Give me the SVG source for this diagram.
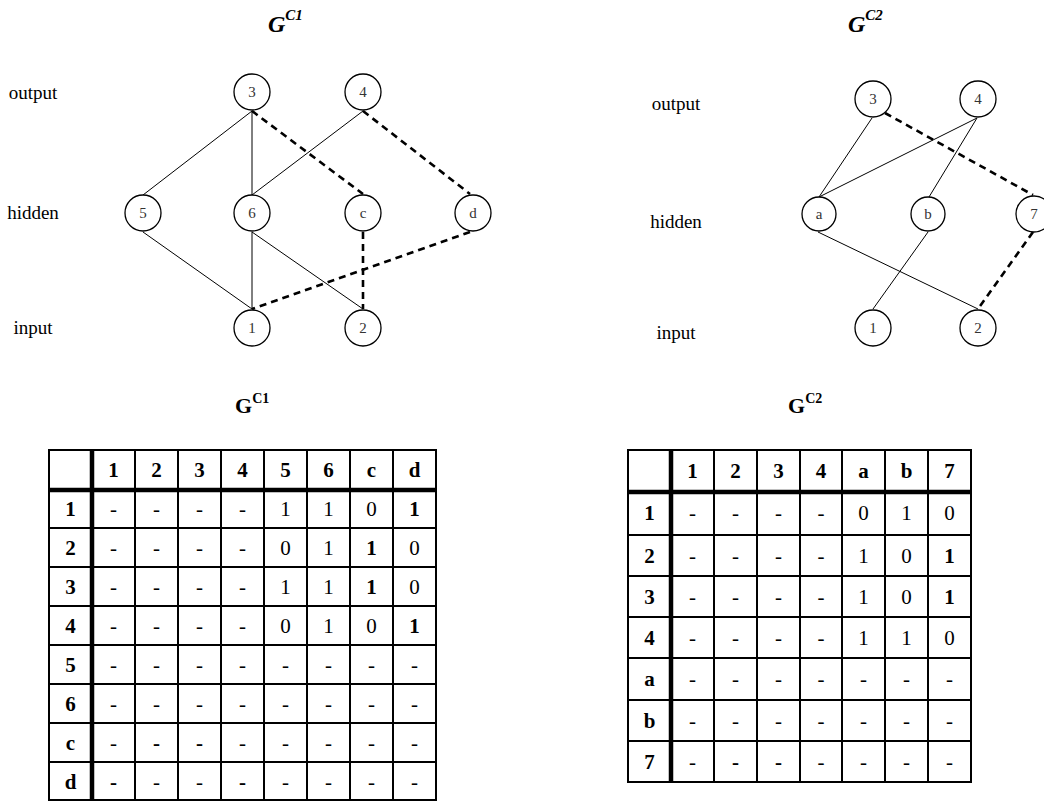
<svg xmlns="http://www.w3.org/2000/svg" width="1044" height="801" viewBox="0 0 1044 801">
  <style>
    .bg { fill: #ffffff; }
    .node circle { fill: #ffffff; stroke: #000000; stroke-width: 1.3; }
    .node text { font-family: "Liberation Serif", serif; font-size: 15px; fill: #333333; text-anchor: middle; }
    .layer { font-family: "Liberation Serif", serif; font-size: 19px; fill: #000000; text-anchor: middle; }
    .edge { stroke: #000000; stroke-width: 1; fill: none; }
    .dash { stroke: #000000; stroke-width: 2.6; stroke-dasharray: 7 5; fill: none; }
    .gtitle { font-family: "Liberation Serif", serif; font-weight: bold; font-style: italic; fill: #000000; }
    .ttitle { font-family: "Liberation Serif", serif; font-weight: bold; fill: #000000; }
    .grid { stroke: #000000; stroke-width: 2; fill: none; }
    .thick { stroke: #000000; stroke-width: 4.5; fill: none; }
    .th { font-family: "Liberation Serif", serif; font-weight: bold; font-size: 21px; text-anchor: middle; fill: #000000; }
    .td { font-family: "Liberation Serif", serif; font-size: 21px; text-anchor: middle; fill: #000000; }
    .tb { font-family: "Liberation Serif", serif; font-weight: bold; font-size: 21px; text-anchor: middle; fill: #000000; }
  </style>
  <rect class="bg" x="0" y="0" width="1044" height="801"/>

  <!-- graph titles -->
  <text class="gtitle" x="268" y="32" font-size="24">G<tspan font-size="15" dy="-12">C1</tspan></text>
  <text class="gtitle" x="848" y="32" font-size="24">G<tspan font-size="15" dy="-12">C2</tspan></text>

  <!-- layer labels, first network -->
  <text class="layer" x="33" y="99">output</text>
  <text class="layer" x="33" y="219">hidden</text>
  <text class="layer" x="33" y="334">input</text>
  <!-- layer labels, second network -->
  <text class="layer" x="676" y="110">output</text>
  <text class="layer" x="676" y="228">hidden</text>
  <text class="layer" x="676" y="339">input</text>

  <!-- connectors -->
  <g id="connectors">
    <!-- first network -->
    <line class="edge" x1="252" y1="111" x2="143" y2="195"/>
    <line class="edge" x1="252" y1="111" x2="252" y2="195"/>
    <line class="edge" x1="363" y1="111" x2="252" y2="195"/>
    <line class="edge" x1="143" y1="232" x2="252" y2="309"/>
    <line class="edge" x1="252" y1="232" x2="252" y2="309"/>
    <line class="edge" x1="252" y1="232" x2="363" y2="309"/>
    <line class="dash" x1="252" y1="111" x2="363" y2="194"/>
    <line class="dash" x1="363" y1="111" x2="470" y2="194"/>
    <line class="dash" x1="363" y1="232" x2="363" y2="309"/>
    <line class="dash" x1="470" y1="232" x2="252" y2="309"/>
    <!-- second network -->
    <line class="edge" x1="872" y1="118" x2="819" y2="197"/>
    <line class="edge" x1="977" y1="118" x2="819" y2="197"/>
    <line class="edge" x1="977" y1="118" x2="929" y2="197"/>
    <line class="edge" x1="818" y1="232" x2="978" y2="309"/>
    <line class="edge" x1="928" y1="232" x2="873" y2="309"/>
    <line class="dash" x1="885" y1="113" x2="1033" y2="195"/>
    <line class="dash" x1="1033" y1="232" x2="978" y2="309"/>
  </g>

  <!-- first network nodes -->
  <g id="n1-3" class="node"><circle cx="252" cy="92" r="18"/><text x="252" y="97">3</text></g>
  <g id="n1-4" class="node"><circle cx="363" cy="92" r="18"/><text x="363" y="97">4</text></g>
  <g id="n1-5" class="node"><circle cx="143" cy="213" r="18"/><text x="143" y="218">5</text></g>
  <g id="n1-6" class="node"><circle cx="252" cy="213" r="18"/><text x="252" y="218">6</text></g>
  <g id="n1-c" class="node"><circle cx="363" cy="213" r="18"/><text x="363" y="218">c</text></g>
  <g id="n1-d" class="node"><circle cx="473" cy="213" r="18"/><text x="473" y="218">d</text></g>
  <g id="n1-1" class="node"><circle cx="252" cy="328" r="18"/><text x="252" y="333">1</text></g>
  <g id="n1-2" class="node"><circle cx="363" cy="328" r="18"/><text x="363" y="333">2</text></g>

  <!-- second network nodes -->
  <g id="n2-3" class="node"><circle cx="873" cy="99" r="18"/><text x="873" y="104">3</text></g>
  <g id="n2-4" class="node"><circle cx="978" cy="99" r="18"/><text x="978" y="104">4</text></g>
  <g id="n2-a" class="node"><circle cx="819" cy="214" r="17"/><text x="819" y="219">a</text></g>
  <g id="n2-b" class="node"><circle cx="928" cy="214" r="17"/><text x="928" y="219">b</text></g>
  <g id="n2-7" class="node"><circle cx="1034" cy="214" r="18"/><text x="1034" y="219">7</text></g>
  <g id="n2-1" class="node"><circle cx="873" cy="328" r="18"/><text x="873" y="333">1</text></g>
  <g id="n2-2" class="node"><circle cx="978" cy="328" r="18"/><text x="978" y="333">2</text></g>

  <!-- table titles -->
  <text class="ttitle" x="235" y="413" font-size="22">G<tspan font-size="14" dy="-10">C1</tspan></text>
  <text class="ttitle" x="788" y="413" font-size="22">G<tspan font-size="14" dy="-10">C2</tspan></text>

  <!-- first matrix -->
  <g id="table1">
    <rect class="grid" x="49" y="450" width="387" height="350"/>
    <!-- column rules -->
    <line class="grid" x1="135" y1="450" x2="135" y2="800"/>
    <line class="grid" x1="178" y1="450" x2="178" y2="800"/>
    <line class="grid" x1="221" y1="450" x2="221" y2="800"/>
    <line class="grid" x1="264" y1="450" x2="264" y2="800"/>
    <line class="grid" x1="307" y1="450" x2="307" y2="800"/>
    <line class="grid" x1="350" y1="450" x2="350" y2="800"/>
    <line class="grid" x1="393" y1="450" x2="393" y2="800"/>
    <!-- row rules -->
    <line class="grid" x1="49" y1="528" x2="436" y2="528"/>
    <line class="grid" x1="49" y1="567" x2="436" y2="567"/>
    <line class="grid" x1="49" y1="606" x2="436" y2="606"/>
    <line class="grid" x1="49" y1="645" x2="436" y2="645"/>
    <line class="grid" x1="49" y1="684" x2="436" y2="684"/>
    <line class="grid" x1="49" y1="723" x2="436" y2="723"/>
    <line class="grid" x1="49" y1="762" x2="436" y2="762"/>
    <!-- heavy header rules -->
    <line class="thick" x1="92" y1="450" x2="92" y2="800"/>
    <line class="thick" x1="49" y1="490" x2="436" y2="490"/>
    <!-- header -->
    <g class="th">
      <text x="113.5" y="477">1</text><text x="156.5" y="477">2</text><text x="199.5" y="477">3</text><text x="242.5" y="477">4</text>
      <text x="285.5" y="477">5</text><text x="328.5" y="477">6</text><text x="371.5" y="477">c</text><text x="414.5" y="477">d</text>
      <text x="70.5" y="516">1</text><text x="70.5" y="555">2</text><text x="70.5" y="594">3</text><text x="70.5" y="633">4</text>
      <text x="70.5" y="672">5</text><text x="70.5" y="711">6</text><text x="70.5" y="750">c</text><text x="70.5" y="789">d</text>
    </g>
    <!-- row 1 -->
    <g class="td">
      <text x="113.5" y="516">-</text><text x="156.5" y="516">-</text><text x="199.5" y="516">-</text><text x="242.5" y="516">-</text>
      <text x="285.5" y="516">1</text><text x="328.5" y="516">1</text><text x="371.5" y="516">0</text>
    </g>
    <text class="tb" x="414.5" y="516">1</text>
    <!-- row 2 -->
    <g class="td">
      <text x="113.5" y="555">-</text><text x="156.5" y="555">-</text><text x="199.5" y="555">-</text><text x="242.5" y="555">-</text>
      <text x="285.5" y="555">0</text><text x="328.5" y="555">1</text><text x="414.5" y="555">0</text>
    </g>
    <text class="tb" x="371.5" y="555">1</text>
    <!-- row 3 -->
    <g class="td">
      <text x="113.5" y="594">-</text><text x="156.5" y="594">-</text><text x="199.5" y="594">-</text><text x="242.5" y="594">-</text>
      <text x="285.5" y="594">1</text><text x="328.5" y="594">1</text><text x="414.5" y="594">0</text>
    </g>
    <text class="tb" x="371.5" y="594">1</text>
    <!-- row 4 -->
    <g class="td">
      <text x="113.5" y="633">-</text><text x="156.5" y="633">-</text><text x="199.5" y="633">-</text><text x="242.5" y="633">-</text>
      <text x="285.5" y="633">0</text><text x="328.5" y="633">1</text><text x="371.5" y="633">0</text>
    </g>
    <text class="tb" x="414.5" y="633">1</text>
    <!-- rows 5, 6 -->
    <g class="td">
      <text x="113.5" y="672">-</text><text x="156.5" y="672">-</text><text x="199.5" y="672">-</text><text x="242.5" y="672">-</text>
      <text x="285.5" y="672">-</text><text x="328.5" y="672">-</text><text x="371.5" y="672">-</text><text x="414.5" y="672">-</text>
      <text x="113.5" y="711">-</text><text x="156.5" y="711">-</text><text x="199.5" y="711">-</text><text x="242.5" y="711">-</text>
      <text x="285.5" y="711">-</text><text x="328.5" y="711">-</text><text x="371.5" y="711">-</text><text x="414.5" y="711">-</text>
    </g>
    <!-- row c -->
    <g class="td">
      <text x="113.5" y="750">-</text><text x="242.5" y="750">-</text>
      <text x="285.5" y="750">-</text><text x="328.5" y="750">-</text><text x="371.5" y="750">-</text><text x="414.5" y="750">-</text>
    </g>
    <text class="tb" x="156.5" y="750">-</text><text class="tb" x="199.5" y="750">-</text>
    <!-- row d -->
    <g class="td">
      <text x="156.5" y="789">-</text><text x="199.5" y="789">-</text>
      <text x="285.5" y="789">-</text><text x="328.5" y="789">-</text><text x="371.5" y="789">-</text><text x="414.5" y="789">-</text>
    </g>
    <text class="tb" x="113.5" y="789">-</text><text class="tb" x="242.5" y="789">-</text>
  </g>

  <!-- second matrix -->
  <g id="table2">
    <rect class="grid" x="628" y="450" width="343" height="332"/>
    <line class="grid" x1="714" y1="450" x2="714" y2="782"/>
    <line class="grid" x1="757" y1="450" x2="757" y2="782"/>
    <line class="grid" x1="800" y1="450" x2="800" y2="782"/>
    <line class="grid" x1="842" y1="450" x2="842" y2="782"/>
    <line class="grid" x1="885" y1="450" x2="885" y2="782"/>
    <line class="grid" x1="928" y1="450" x2="928" y2="782"/>
    <line class="grid" x1="628" y1="535" x2="971" y2="535"/>
    <line class="grid" x1="628" y1="576" x2="971" y2="576"/>
    <line class="grid" x1="628" y1="617" x2="971" y2="617"/>
    <line class="grid" x1="628" y1="658" x2="971" y2="658"/>
    <line class="grid" x1="628" y1="700" x2="971" y2="700"/>
    <line class="grid" x1="628" y1="741" x2="971" y2="741"/>
    <line class="thick" x1="671" y1="450" x2="671" y2="782"/>
    <line class="thick" x1="628" y1="492" x2="971" y2="492"/>
    <g class="th">
      <text x="692.5" y="478">1</text><text x="735.5" y="478">2</text><text x="778.5" y="478">3</text><text x="821" y="478">4</text>
      <text x="863.5" y="478">a</text><text x="906.5" y="478">b</text><text x="949.5" y="478">7</text>
      <text x="649.5" y="520">1</text><text x="649.5" y="563">2</text><text x="649.5" y="604">3</text><text x="649.5" y="645">4</text>
      <text x="649.5" y="686">a</text><text x="649.5" y="728">b</text><text x="649.5" y="769">7</text>
    </g>
    <g class="td">
      <text x="692.5" y="520">-</text><text x="735.5" y="520">-</text><text x="778.5" y="520">-</text><text x="821" y="520">-</text>
      <text x="863.5" y="520">0</text><text x="906.5" y="520">1</text><text x="949.5" y="520">0</text>
      <text x="692.5" y="563">-</text><text x="735.5" y="563">-</text><text x="778.5" y="563">-</text><text x="821" y="563">-</text>
      <text x="863.5" y="563">1</text><text x="906.5" y="563">0</text>
      <text x="692.5" y="604">-</text><text x="735.5" y="604">-</text><text x="778.5" y="604">-</text><text x="821" y="604">-</text>
      <text x="863.5" y="604">1</text><text x="906.5" y="604">0</text>
      <text x="692.5" y="645">-</text><text x="735.5" y="645">-</text><text x="778.5" y="645">-</text><text x="821" y="645">-</text>
      <text x="863.5" y="645">1</text><text x="906.5" y="645">1</text><text x="949.5" y="645">0</text>
      <text x="692.5" y="686">-</text><text x="735.5" y="686">-</text><text x="778.5" y="686">-</text><text x="821" y="686">-</text>
      <text x="863.5" y="686">-</text><text x="906.5" y="686">-</text><text x="949.5" y="686">-</text>
      <text x="692.5" y="728">-</text><text x="735.5" y="728">-</text><text x="778.5" y="728">-</text><text x="821" y="728">-</text>
      <text x="863.5" y="728">-</text><text x="906.5" y="728">-</text><text x="949.5" y="728">-</text>
      <text x="692.5" y="769">-</text><text x="821" y="769">-</text>
      <text x="863.5" y="769">-</text><text x="906.5" y="769">-</text><text x="949.5" y="769">-</text>
    </g>
    <text class="tb" x="949.5" y="563">1</text>
    <text class="tb" x="949.5" y="604">1</text>
    <text class="tb" x="735.5" y="769">-</text><text class="tb" x="778.5" y="769">-</text>
  </g>
</svg>
